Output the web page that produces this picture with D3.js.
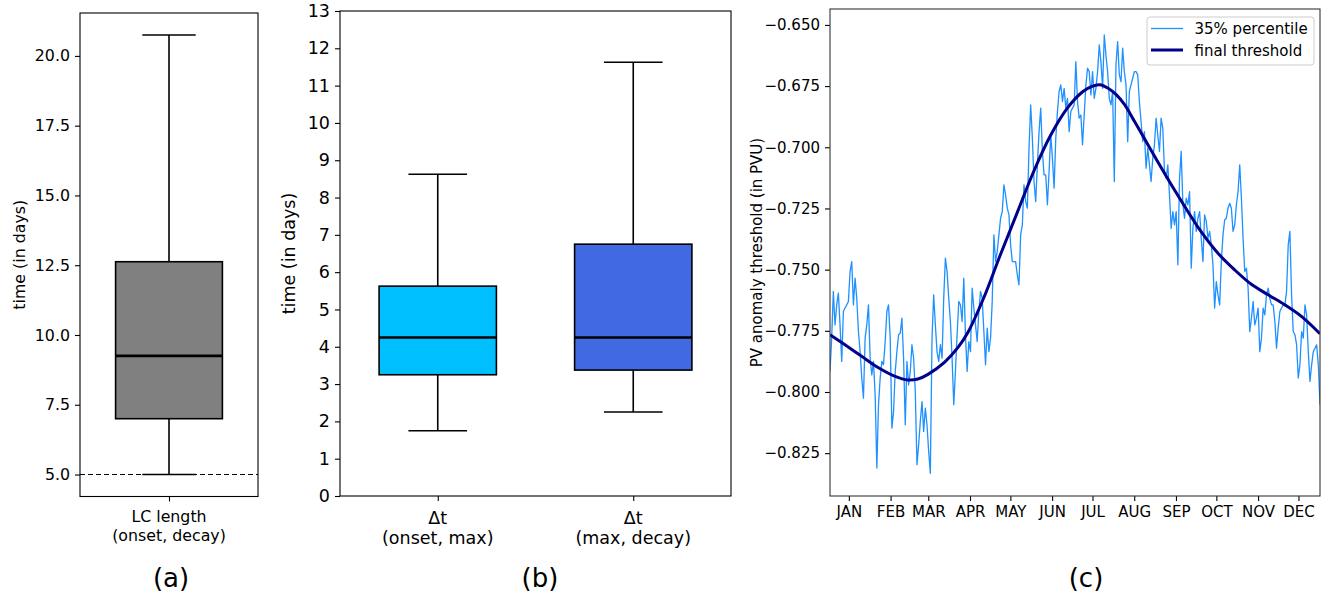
<!DOCTYPE html>
<html><head><meta charset="utf-8">
<script src="https://cdn.jsdelivr.net/npm/d3@7"></script>
<style>
body{margin:0;background:#fff;}
svg text{font-family:"DejaVu Sans",sans-serif;fill:#000;}
</style></head><body>
<svg id="fig" width="1327" height="597"></svg>
<script>
// ---------- Panel (a) data ----------
const catsA = [["LC length", "(onset, decay)"]];
const lowA = [5.0];
const q1A = [7.0];
const medA = [9.25];
const q3A = [12.625];
const highA = [20.75];
const colorsA = ["#808080"];
const ticksA = [5.0, 7.5, 10.0, 12.5, 15.0, 17.5, 20.0];
const refLineA = 5.0;

// ---------- Panel (b) data ----------
const catsB = [["Δt", "(onset, max)"], ["Δt", "(max, decay)"]];
const lowB = [1.75, 2.25];
const q1B = [3.25, 3.375];
const medB = [4.25, 4.25];
const q3B = [5.625, 6.75];
const highB = [8.625, 11.625];
const colorsB = ["#00BFFF", "#4169E1"];
const ticksB = [0,1,2,3,4,5,6,7,8,9,10,11,12,13];

// ---------- Panel (c) data ----------
const monthLabels = ["JAN","FEB","MAR","APR","MAY","JUN","JUL","AUG","SEP","OCT","NOV","DEC"];
const monthTickDays = [14,45,73,104,134,165,195,226,257,287,318,348];
const ticksC = [-0.650,-0.675,-0.700,-0.725,-0.750,-0.775,-0.800,-0.825];
const pctFirstDay = 0, pctLastDay = 364;
const pctValues = [
-0.7916,-0.7780,-0.7589,-0.7726,-0.7644,-0.7596,-0.7726,-0.7875,-0.7671,-0.7657,
-0.7644,-0.7630,-0.7508,-0.7467,-0.7644,-0.7535,-0.7617,-0.7753,-0.7835,-0.7943,
-0.8025,-0.7780,-0.7726,-0.7644,-0.7862,-0.7930,-0.7875,-0.8012,-0.8311,-0.8052,
-0.7943,-0.7875,-0.7889,-0.7794,-0.7671,-0.7644,-0.7780,-0.8148,-0.8080,-0.7916,
-0.7835,-0.7766,-0.7760,-0.7698,-0.7862,-0.8134,-0.7875,-0.7971,-0.7916,-0.7807,
-0.7862,-0.7998,-0.8297,-0.8216,-0.8120,-0.8039,-0.8161,-0.8066,-0.8134,-0.8243,
-0.8332,-0.7780,-0.7603,-0.7726,-0.7835,-0.7875,-0.7807,-0.7862,-0.7617,-0.7453,
-0.7508,-0.7617,-0.7712,-0.7862,-0.8052,-0.7916,
-0.7766,-0.7630,-0.7644,-0.7712,-0.7535,-0.7766,-0.7916,-0.7794,-0.7835,-0.7576,
-0.7657,-0.7726,-0.7794,-0.7671,-0.7589,-0.7617,-0.7753,-0.7889,-0.7739,-0.7835,
-0.7780,-0.7630,-0.7358,-0.7467,-0.7426,-0.7358,-0.7290,-0.7263,-0.7154,-0.7195,
-0.7249,-0.7276,-0.7399,-0.7467,-0.7467,-0.7467,-0.7521,-0.7562,-0.7358,-0.7317,
-0.7154,-0.7222,-0.7249,-0.7004,-0.6827,-0.6963,-0.7140,-0.7222,-0.7072,-0.6936,
-0.6840,-0.7017,-0.7113,-0.7113,-0.7235,-0.7099,-0.6949,-0.7045,-0.7167,-0.6963,
-0.6854,-0.6772,-0.6745,-0.6813,-0.6759,-0.6840,-0.6800,-0.6936,-0.6854,-0.6840,
-0.6827,-0.6650,-0.6813,-0.6881,-0.6868,
-0.6990,-0.6868,-0.6745,-0.6677,-0.6691,-0.6786,-0.6691,-0.6800,-0.6759,-0.6691,
-0.6582,-0.6650,-0.6759,-0.6541,-0.6623,-0.6691,-0.6800,-0.6827,-0.6772,-0.7140,
-0.6663,-0.6568,-0.6704,-0.6732,-0.6595,-0.6691,-0.6745,-0.6977,-0.6772,-0.6745,
-0.6718,-0.6691,-0.6691,-0.6704,-0.6813,-0.6895,-0.6977,-0.6936,-0.7086,-0.7004,
-0.7072,-0.7140,-0.7045,-0.6990,-0.6881,-0.6949,-0.7017,-0.6881,-0.6922,-0.7099,
-0.7126,-0.7072,-0.7195,-0.7331,-0.7263,-0.7317,-0.7263,-0.7480,-0.7126,-0.7017,
-0.7235,-0.7290,-0.7208,-0.7235,-0.7181,-0.7494,-0.7331,-0.7263,-0.7344,-0.7290,
-0.7263,-0.7372,-0.7467,-0.7276,
-0.7303,-0.7372,-0.7344,-0.7399,-0.7480,-0.7657,-0.7549,-0.7603,-0.7644,-0.7467,
-0.7358,-0.7297,-0.7290,-0.7249,-0.7229,-0.7249,-0.7344,-0.7317,-0.7235,-0.7181,
-0.7072,-0.7208,-0.7372,-0.7508,-0.7494,-0.7576,-0.7753,-0.7698,-0.7630,-0.7726,
-0.7698,-0.7657,-0.7835,-0.7780,-0.7657,-0.7685,-0.7603,-0.7576,-0.7617,-0.7644,
-0.7644,-0.7712,-0.7821,-0.7739,-0.7671,-0.7657,-0.7644,-0.7644,-0.7589,-0.7399,
-0.7344,-0.7603,-0.7753,-0.7766,-0.7807,-0.7943,-0.7889,-0.7753,-0.7780,-0.7644,
-0.7685,-0.7835,-0.7957,-0.7889,-0.7835,-0.7821,-0.7807,-0.7889,-0.8052
];
const thrDays = [0,10.6,23,35.4,47.9,58,65.3,72.8,85.2,95.1,102.6,114,126.5,139,151.3,163.8,176.3,187.9,194.2,200.4,206.6,212.8,219,225.2,231.5,243.9,256.3,263.3,275.7,288.2,300.6,313,325.5,337.9,350.4,364];
const thrValues = [-0.7766,-0.7805,-0.7852,-0.7899,-0.7935,-0.7951,-0.7947,-0.7928,-0.7878,-0.7818,-0.7755,-0.7618,-0.7440,-0.7268,-0.7099,-0.6952,-0.6840,-0.6772,-0.6752,-0.6745,-0.6759,-0.6786,-0.6827,-0.6885,-0.6945,-0.7063,-0.7178,-0.7240,-0.7345,-0.7433,-0.7501,-0.7560,-0.7603,-0.7644,-0.7692,-0.7762];
const legendLabels = ["35% percentile", "final threshold"];
const panelLabels = ["(a)", "(b)", "(c)"];
const yLabelAB = "time (in days)";
const yLabelC = "PV anomaly threshold (in PVU)";

// ---------- drawing ----------
const svg = d3.select("#fig");
svg.append("rect").attr("width",1327).attr("height",597).attr("fill","#fff");

function frame(g, x0, x1, y0, y1, col){
  g.append("rect").attr("x",x0).attr("y",y0).attr("width",x1-x0).attr("height",y1-y0)
   .attr("fill","none").attr("stroke",col||"#000").attr("stroke-width",1.1);
}
function styleAxis(g, fs){
  g.select(".domain").remove();
  g.selectAll(".tick line").attr("stroke","#000").attr("stroke-width",1.1);
  g.selectAll(".tick text").attr("font-size",fs).attr("font-family","DejaVu Sans").attr("fill","#000");
}
function boxPanel(opt){
  const {x0,x1,y0,y1,domX,domY,ticks,fmt,cats,low,q1,med,q3,high,colors,ylabX,panelX,fs} = opt;
  const g = svg.append("g");
  const x = d3.scaleLinear().domain(domX).range([x0,x1]);
  const y = d3.scaleLinear().domain(domY).range([y1,y0]);
  const idx = cats.map((c,i)=>i);
  const pos = i => i+1;
  const bw = 0.6, cw = 0.3;
  idx.forEach(i=>{
    const cx = x(pos(i));
    g.append("line").attr("x1",cx).attr("x2",cx).attr("y1",y(q3[i])).attr("y2",y(high[i])).attr("stroke","#000").attr("stroke-width",1.6);
    g.append("line").attr("x1",cx).attr("x2",cx).attr("y1",y(q1[i])).attr("y2",y(low[i])).attr("stroke","#000").attr("stroke-width",1.6);
    g.append("line").attr("x1",x(pos(i)-cw/2)).attr("x2",x(pos(i)+cw/2)).attr("y1",y(high[i])).attr("y2",y(high[i])).attr("stroke","#000").attr("stroke-width",1.6);
    g.append("line").attr("x1",x(pos(i)-cw/2)).attr("x2",x(pos(i)+cw/2)).attr("y1",y(low[i])).attr("y2",y(low[i])).attr("stroke","#000").attr("stroke-width",1.6);
    g.append("rect").attr("x",x(pos(i)-bw/2)).attr("width",x(pos(i)+bw/2)-x(pos(i)-bw/2))
      .attr("y",y(q3[i])).attr("height",y(q1[i])-y(q3[i]))
      .attr("fill",colors[i]).attr("stroke","#000").attr("stroke-width",1.6);
    g.append("line").attr("x1",x(pos(i)-bw/2)).attr("x2",x(pos(i)+bw/2)).attr("y1",y(med[i])).attr("y2",y(med[i])).attr("stroke","#000").attr("stroke-width",2.6);
  });
  if(opt.refLine!==undefined){
    g.append("line").attr("x1",x0).attr("x2",x1).attr("y1",y(opt.refLine)).attr("y2",y(opt.refLine))
      .attr("stroke","#000").attr("stroke-width",1.1).attr("stroke-dasharray","5,3");
  }
  const ay = g.append("g").attr("transform",`translate(${x0},0)`)
    .call(d3.axisLeft(y).tickValues(ticks).tickFormat(fmt).tickSize(5).tickPadding(5));
  styleAxis(ay, fs);
  const ax = g.append("g").attr("transform",`translate(0,${y1})`)
    .call(d3.axisBottom(x).tickValues(idx.map(pos)).tickFormat("").tickSize(5));
  styleAxis(ax, fs);
  idx.forEach(i=>{
    const t = g.append("text").attr("x",x(pos(i))).attr("y",y1+10+fs).attr("text-anchor","middle").attr("font-size",fs);
    cats[i].forEach((line,k)=>t.append("tspan").attr("x",x(pos(i))).attr("dy",k===0?0:fs*1.17).text(line));
  });
  frame(g,x0,x1,y0,y1);
  g.append("text").attr("transform",`translate(${ylabX},${(y0+y1)/2}) rotate(-90)`)
    .attr("text-anchor","middle").attr("font-size",fs).text(yLabelAB);
  g.append("text").attr("x",panelX).attr("y",587).attr("text-anchor","middle").attr("font-size",26).text(opt.panelLabel);
}

boxPanel({x0:80,x1:258,y0:13,y1:496.5,domX:[0.5,1.5],domY:[4.2125,21.5375],ticks:ticksA,fmt:d3.format(".1f"),fs:15.8,
  cats:catsA,low:lowA,q1:q1A,med:medA,q3:q3A,high:highA,colors:colorsA,refLine:refLineA,ylabX:25,panelX:171,panelLabel:panelLabels[0]});
boxPanel({x0:340,x1:731,y0:11,y1:496,domX:[0.5,2.5],domY:[0,13],ticks:ticksB,fmt:d3.format("d"),fs:17.5,
  cats:catsB,low:lowB,q1:q1B,med:medB,q3:q3B,high:highB,colors:colorsB,ylabX:295,panelX:540,panelLabel:panelLabels[1]});

// Panel (c)
(function(){
  const x0=830,x1=1320,y0=9,y1=496, fs=15;
  const g = svg.append("g");
  const x = d3.scaleLinear().domain([0,364]).range([x0,x1]);
  const y = d3.scaleLinear().domain([-0.8425,-0.6435]).range([y1,y0]);
  const n = pctValues.length;
  const pct = pctValues.map((v,i)=>[pctFirstDay + i*(pctLastDay-pctFirstDay)/(n-1), v]);
  g.append("clipPath").attr("id","clipc").append("rect").attr("x",x0).attr("y",y0).attr("width",x1-x0).attr("height",y1-y0);
  const gp = g.append("g").attr("clip-path","url(#clipc)");
  gp.append("path").datum(pct).attr("fill","none").attr("stroke","#1E90FF").attr("stroke-width",1.3)
    .attr("stroke-linejoin","round")
    .attr("d",d3.line().x(d=>x(d[0])).y(d=>y(d[1])));
  const thr = thrDays.map((d,i)=>[d,thrValues[i]]);
  gp.append("path").datum(thr).attr("fill","none").attr("stroke","#00008B").attr("stroke-width",3)
    .attr("d",d3.line().curve(d3.curveCatmullRom).x(d=>x(d[0])).y(d=>y(d[1])));
  const fmt = v => d3.format(".3f")(v).replace("-","\u2212");
  const ay = g.append("g").attr("transform",`translate(${x0},0)`)
    .call(d3.axisLeft(y).tickValues(ticksC).tickFormat(fmt).tickSize(5).tickPadding(5));
  styleAxis(ay, fs);
  const ax = g.append("g").attr("transform",`translate(0,${y1})`)
    .call(d3.axisBottom(x).tickValues(monthTickDays).tickFormat((d,i)=>monthLabels[i]).tickSize(5).tickPadding(5));
  styleAxis(ax, fs);
  frame(g,x0,x1,y0,y1,"#333");
  g.append("text").attr("transform",`translate(762,${(y0+y1)/2}) rotate(-90)`)
    .attr("text-anchor","middle").attr("font-size",fs).text(yLabelC);
  const lg = g.append("g");
  lg.append("rect").attr("x",1147).attr("y",17).attr("width",167).attr("height",48).attr("rx",3)
    .attr("fill","#fff").attr("fill-opacity",0.8).attr("stroke","#ccc").attr("stroke-width",1);
  const lstyles = [{c:"#1E90FF",w:1.3},{c:"#00008B",w:3}];
  legendLabels.forEach((lab,i)=>{
    const yy = 28.5 + i*21.5;
    lg.append("line").attr("x1",1151).attr("x2",1183).attr("y1",yy).attr("y2",yy).attr("stroke",lstyles[i].c).attr("stroke-width",lstyles[i].w);
    lg.append("text").attr("x",1194.5).attr("y",yy+5.5).attr("font-size",fs).text(lab);
  });
  g.append("text").attr("x",1086).attr("y",587).attr("text-anchor","middle").attr("font-size",26).text(panelLabels[2]);
})();
</script>
</body></html>
